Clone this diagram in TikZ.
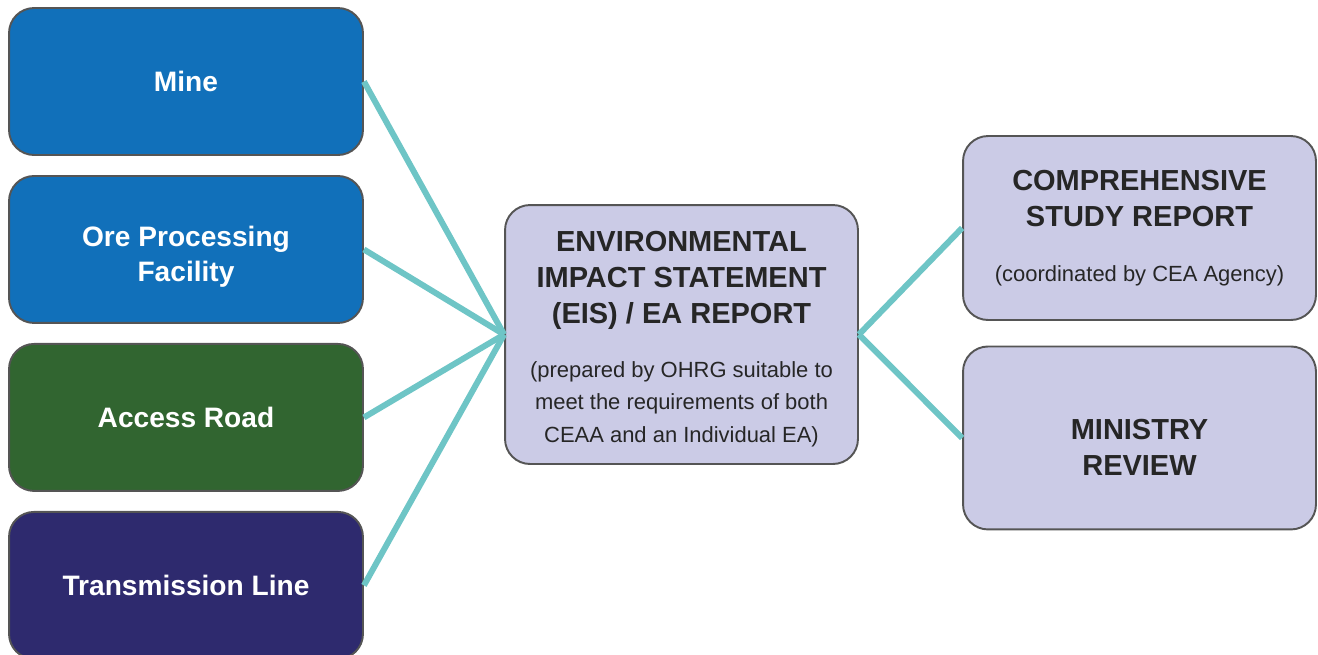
\documentclass[tikz,border=0pt]{standalone}
\usepackage{fontspec}
\setmainfont{Liberation Sans}
\usetikzlibrary{positioning}

\definecolor{mineblue}{HTML}{1170BA}
\definecolor{roadgreen}{HTML}{316530}
\definecolor{linenavy}{HTML}{2E2A6E}
\definecolor{reportlilac}{HTML}{CBCBE6}
\definecolor{linkteal}{HTML}{6EC5C6}
\definecolor{edgegray}{HTML}{555555}

\tikzset{
    srcbox/.style={draw=edgegray, line width=1.1pt, rounded corners=0.5cm,
        minimum width=7.08cm, minimum height=2.94cm, text=white,
        font=\fontsize{16}{20}\selectfont\bfseries, align=center},
    reportbox/.style={draw=edgegray, line width=1.1pt, rounded corners=0.5cm,
        fill=reportlilac, text=black!85, align=center},
    headfont/.style={font=\fontsize{16.5}{20.5}\selectfont\bfseries},
    link/.style={draw=linkteal, line width=3.4pt}
}

\newcommand{\subnote}[1]{{\fontsize{12.5}{18.6}\selectfont\mdseries #1}}

\begin{document}
\begin{tikzpicture}[x=0.02cm, y=-0.02cm, on grid, node distance=3.36cm]
    \useasboundingbox (0,0) rectangle (1318,654);

    % project components
    \node[srcbox, fill=mineblue] (mine) at (186,81.5) {Mine};
    \node[srcbox, fill=mineblue] (ore) [below=of mine] {\rule{0pt}{20pt}Ore Processing\\Facility};
    \node[srcbox, fill=roadgreen] (road) [below=of ore] {Access Road};
    \node[srcbox, fill=linenavy] (trans) [below=of road] {Transmission Line};

    % reports
    \node[reportbox, headfont, minimum width=7.06cm, minimum height=5.18cm] (eis) at (681.5,334.5)
        {\rule{0pt}{17pt}ENVIRONMENTAL\\IMPACT STATEMENT\\(EIS) / EA REPORT\\[10pt]
         \subnote{(prepared by OHRG suitable to}\\[-1.8pt]
         \subnote{meet the requirements of both}\\[-1.8pt]
         \subnote{CEAA and an Individual EA)}};
    \node[reportbox, headfont, minimum width=7.06cm, minimum height=3.68cm] (csr) at (1139.5,228)
        {COMPREHENSIVE\\STUDY REPORT\\[11pt]
         \subnote{(coordinated by CEA Agency)}};
    \node[reportbox, minimum width=7.06cm, minimum height=3.66cm] (ministry) [below=4.2cm of csr] {};
    \node[headfont, text=black!85, align=center] (ministrytext) [below=0.18cm of ministry]
        {MINISTRY\\REVIEW};

    \path[link]
        (mine.east) edge (eis.west)
        (ore.east) edge (eis.west)
        (road.east) edge (eis.west)
        (trans.east) edge (eis.west)
        (eis.east) edge (csr.west)
                   edge (ministry.west);
\end{tikzpicture}
\end{document}
